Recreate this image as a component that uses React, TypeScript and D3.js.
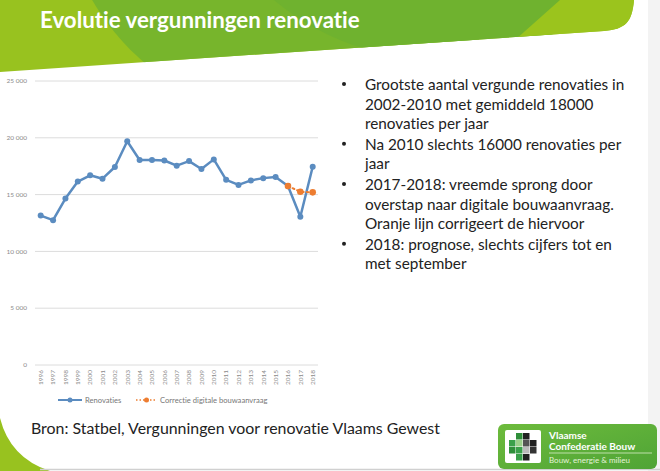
import React from "react";
import * as d3 from "d3";

const years = ["1996","1997","1998","1999","2000","2001","2002","2003","2004","2005","2006","2007","2008","2009","2010","2011","2012","2013","2014","2015","2016","2017","2018"];
const renovaties = [13150,12750,14650,16150,16700,16400,17430,19700,18050,18050,18000,17550,17950,17250,18100,16300,15850,16250,16450,16550,15750,13050,17450];
const correctieYears = ["2016","2017","2018"];
const correctie = [15750,15250,15200];
const yTicks = [0,5000,10000,15000,20000,25000];
const bullets = [
  ["Grootste aantal vergunde renovaties in", "2002-2010 met gemiddeld 18000", "renovaties per jaar"],
  ["Na 2010 slechts 16000 renovaties per", "jaar"],
  ["2017-2018: vreemde sprong door", "overstap naar digitale bouwaanvraag.", "Oranje lijn corrigeert de hiervoor"],
  ["2018: prognose, slechts cijfers tot en", "met september"],
];
const title = "Evolutie vergunningen renovatie";
const source = "Bron: Statbel, Vergunningen voor renovatie Vlaams Gewest";
const legendLabels = ["Renovaties", "Correctie digitale bouwaanvraag"];

const BLUE = "#5b8cc0";
const ORANGE = "#ed7d31";

export default function App() {
  const x = d3.scalePoint<string>().domain(years).range([40.7, 312.7]);
  const y = d3.scaleLinear().domain([0, 25000]).range([365, 81]);
  const fmt = (v: number) => (v === 0 ? "0" : d3.format(",")(v).replace(",", " "));
  const line = d3.line<number>().x((_, i) => x(years[i])!).y((d) => y(d));
  const line2 = d3.line<number>().x((_, i) => x(correctieYears[i])!).y((d) => y(d));

  let lineY = 85;
  const bulletLines: { text: string; y: number; first: boolean }[] = [];
  bullets.forEach((b) => {
    b.forEach((t, li) => {
      bulletLines.push({ text: t, y: lineY, first: li === 0 });
      lineY += 19.4;
    });
    lineY += 1.5;
  });

  const font = "Lato, 'Open Sans', sans-serif";
  const noLig = { fontVariantLigatures: "none", fontFeatureSettings: "'liga' 0, 'dlig' 0" } as React.CSSProperties;

  const icon: [number, number, string][] = [
    [1, 0, "#2f8f3a"], [2, 0, "#222"],
    [0, 1, "#3aa04a"], [1, 1, "#9bd08a"], [2, 1, "#555"], [3, 1, "#222"],
    [0, 2, "#2f8f3a"], [1, 2, "#3aa04a"], [2, 2, "#bbb"], [3, 2, "#333"],
    [1, 3, "#3aa04a"], [2, 3, "#222"],
  ];

  return (
    <svg width={660} height={471} style={{ position: "absolute", left: 0, top: 0, background: "#fff", ...noLig }} fontFamily={font}>
      <defs>
        <clipPath id="banner">
          <path d="M0,0 H634 C632,22 626,29 604,31 L0,72 Z" />
        </clipPath>
        <linearGradient id="logoGrad" x1="0" y1="0" x2="1" y2="1">
          <stop offset="0" stopColor="#6dbb3c" />
          <stop offset="1" stopColor="#4fa436" />
        </linearGradient>
      </defs>
      <rect x={648} y={0} width={12} height={471} fill="#f3f3f3" />
      <g clipPath="url(#banner)">
        <rect x={0} y={0} width={660} height={80} fill="#98c21f" />
        <circle cx={300} cy={-120} r={240} fill="#77b52c" />
        <circle cx={440} cy={-200} r={260} fill="#6fb22f" />
        <path d="M560,0 L470,80 L660,80 L660,0 Z" fill="#9bc41d" />
      </g>
      <text x={40} y={28} fontSize={22.3} fontWeight={700} fill="#fff" style={noLig}>{title}</text>
      <path d="M0,418 Q10,458 50,471 L0,471 Z" fill="#98c21f" />
      <line x1={40} x2={660} y1={469.5} y2={469.5} stroke="#d0d0d0" strokeWidth={1.5} />

      {yTicks.map((t) => (
        <g key={t}>
          <line x1={35} x2={318} y1={y(t)} y2={y(t)} stroke="#dcdcdc" strokeWidth={1} />
          <text x={27} y={y(t)} dy="0.35em" textAnchor="end" fontSize={6.5} fill="#8a8a8a">{fmt(t)}</text>
        </g>
      ))}
      {years.map((yr) => (
        <text key={yr} transform={`translate(${x(yr)},${370}) rotate(-90)`} textAnchor="end" dy="0.35em" fontSize={6.5} fill="#8a8a8a">{yr}</text>
      ))}

      <path d={line(renovaties)!} fill="none" stroke={BLUE} strokeWidth={2.5} strokeLinejoin="round" />
      {renovaties.map((v, i) => (
        <circle key={i} cx={x(years[i])} cy={y(v)} r={3} fill={BLUE} />
      ))}
      <path d={line2(correctie)!} fill="none" stroke={ORANGE} strokeWidth={2} strokeDasharray="2,3" strokeLinecap="round" />
      {correctie.map((v, i) => (
        <circle key={i} cx={x(correctieYears[i])} cy={y(v)} r={3.3} fill={ORANGE} />
      ))}

      <line x1={58} x2={82} y1={400} y2={400} stroke={BLUE} strokeWidth={2} />
      <circle cx={70} cy={400} r={2.5} fill={BLUE} />
      <text x={85} y={400} dy="0.35em" fontSize={7.6} fill="#777">{legendLabels[0]}</text>
      <line x1={136} x2={157} y1={400} y2={400} stroke={ORANGE} strokeWidth={1.5} strokeDasharray="1.5,2" />
      <circle cx={146.5} cy={400} r={2.5} fill={ORANGE} />
      <text x={160} y={400} dy="0.35em" fontSize={7.6} fill="#777">{legendLabels[1]}</text>

      {bulletLines.map((l, i) => (
        <g key={i}>
          {l.first && <circle cx={344} cy={l.y - 1} r={2} fill="#222" />}
          <text x={365} y={l.y} dy="0.35em" fontSize={15.3} fill="#222" style={noLig}>{l.text}</text>
        </g>
      ))}

      <text x={31} y={428} dy="0.35em" fontSize={15.9} fill="#222" style={noLig}>{source}</text>

      <rect x={498} y={424} width={159} height={45} rx={6} fill="url(#logoGrad)" />
      <rect x={505} y={430} width={36} height={33} rx={2} fill="#fff" />
      {icon.map(([cx, cy, c], i) => (
        <rect key={i} x={509 + cx * 7} y={433 + cy * 7} width={6.5} height={6.5} fill={c} />
      ))}
      <text x={549} y={435} dy="0.35em" fontSize={10} fontWeight={700} fill="#fff">Vlaamse</text>
      <text x={549} y={446.5} dy="0.35em" fontSize={10} fontWeight={700} fill="#fff" style={noLig}>Confederatie Bouw</text>
      <line x1={549} x2={652} y1={453} y2={453} stroke="#d8eec8" strokeWidth={0.8} />
      <text x={549} y={460.5} dy="0.35em" fontSize={8} fill="#e4f3d8">Bouw, energie &amp; milieu</text>
    </svg>
  );
}
